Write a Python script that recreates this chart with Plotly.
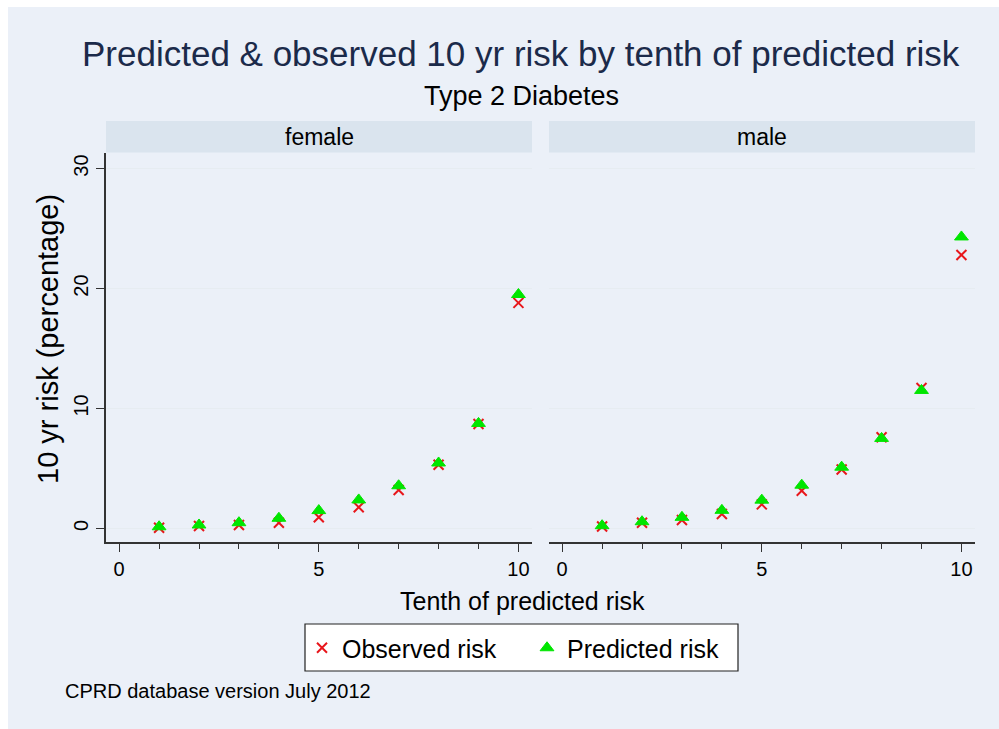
import plotly.graph_objects as go

# Tenth of predicted risk (deciles) and 10-year risk (%) per sex
deciles = [1, 2, 3, 4, 5, 6, 7, 8, 9, 10]
female_observed = [0.05, 0.19, 0.28, 0.47, 0.92, 1.76, 3.2, 5.3, 8.7, 18.8]
female_predicted = [0.13, 0.28, 0.47, 0.84, 1.48, 2.37, 3.55, 5.45, 8.75, 19.5]
male_observed = [0.15, 0.47, 0.69, 1.19, 2.0, 3.13, 4.9, 7.6, 11.7, 22.8]
male_predicted = [0.22, 0.55, 0.92, 1.5, 2.35, 3.6, 5.1, 7.5, 11.5, 24.3]

panel_labels = ["female", "male"]
x_ticks = [0, 5, 10]
y_ticks = [0, 10, 20, 30]

W, H = 999, 729
FONT = "Liberation Sans, Arial, sans-serif"
BG = "#EBF0F8"
STRIP = "#DAE4EE"
GRID = "#E6ECF1"
AXIS = "#333333"
RED = "#E8161B"
GREEN = "#00E600"


def px_x(v):
    return v / W


def px_y(v):
    return 1 - v / H


fig = go.Figure()

series = [
    (female_observed, female_predicted, "x", "y", True),
    (male_observed, male_predicted, "x2", "y2", False),
]
for obs, pred, xa, ya, show in series:
    fig.add_trace(go.Scatter(
        x=deciles, y=obs, mode="markers", name="Observed risk",
        xaxis=xa, yaxis=ya, showlegend=show, legendgroup="obs",
        marker=dict(symbol="x-thin", size=10, color=RED,
                    line=dict(width=2, color=RED)),
    ))
    fig.add_trace(go.Scatter(
        x=deciles, y=pred, mode="markers", name="Predicted risk",
        xaxis=xa, yaxis=ya, showlegend=show, legendgroup="pred",
        marker=dict(symbol="triangle-up", size=12, color=GREEN,
                    line=dict(width=1, color=GREEN)),
    ))

x_dom_f = [px_x(106), px_x(532)]
x_dom_m = [px_x(549), px_x(975)]
y_dom = [px_y(542), px_y(153)]

xaxis_common = dict(
    range=[-0.33, 10.34], tickvals=x_ticks, ticks="outside", ticklen=8,
    tickwidth=1.2, tickcolor=AXIS, showline=True, linecolor=AXIS,
    linewidth=1.5, showgrid=False, zeroline=False,
    tickfont=dict(family=FONT, size=20, color="black"),
    minor=dict(dtick=1, tick0=0, ticks="outside", ticklen=5,
               tickcolor=AXIS, tickwidth=1.2, showgrid=False),
)
yaxis_common = dict(
    range=[-1.14, 31.3], tickvals=y_ticks, showgrid=True, gridcolor=GRID,
    gridwidth=1.2, zeroline=False,
)

fig.update_layout(
    width=W, height=H,
    margin=dict(l=0, r=0, t=0, b=0),
    paper_bgcolor="white",
    plot_bgcolor="white",
    xaxis=dict(domain=x_dom_f, anchor="y", **xaxis_common),
    xaxis2=dict(domain=x_dom_m, anchor="y2", **xaxis_common),
    yaxis=dict(domain=y_dom, anchor="x", ticks="outside", ticklen=8,
               tickwidth=1.2, tickcolor=AXIS, showline=True,
               linecolor=AXIS, linewidth=1.5, tickangle=-90,
               tickfont=dict(family=FONT, size=20, color="black"),
               **yaxis_common),
    yaxis2=dict(domain=y_dom, anchor="x2", matches="y",
                showticklabels=False, ticks="", showline=False,
                **yaxis_common),
    showlegend=True,
    legend=dict(
        orientation="h", x=px_x(302), xanchor="left",
        y=px_y(625), yanchor="top",
        bgcolor="rgba(0,0,0,0)", borderwidth=0,
        font=dict(family=FONT, size=25, color="black"),
        entrywidth=180, entrywidthmode="pixels",
        itemsizing="trace",
    ),
)

# page background, facet strips and the legend frame
shapes = [
    dict(type="rect", xref="paper", yref="paper", x0=px_x(8), x1=1,
         y0=0, y1=px_y(7), fillcolor=BG, line=dict(width=0), layer="below"),
    dict(type="rect", xref="paper", yref="paper", x0=px_x(305), x1=px_x(738),
         y0=px_y(671), y1=px_y(624), fillcolor="white",
         line=dict(width=1.2, color="#222222"), layer="above"),
]
for dom in (x_dom_f, x_dom_m):
    shapes.append(dict(type="rect", xref="paper", yref="paper",
                       x0=dom[0], x1=dom[1], y0=px_y(152.5), y1=px_y(121),
                       fillcolor=STRIP, line=dict(width=0), layer="below"))
fig.update_layout(shapes=shapes)

annotations = [
    dict(text="Predicted & observed 10 yr risk by tenth of predicted risk",
         x=px_x(521), y=px_y(53), font=dict(family=FONT, size=35, color="#1B2A4A")),
    dict(text="Type 2 Diabetes", x=px_x(521), y=px_y(96),
         font=dict(family=FONT, size=27, color="black")),
    dict(text=panel_labels[0], x=sum(x_dom_f) / 2, y=px_y(137),
         font=dict(family=FONT, size=23, color="black")),
    dict(text=panel_labels[1], x=sum(x_dom_m) / 2, y=px_y(137),
         font=dict(family=FONT, size=23, color="black")),
    dict(text="Tenth of predicted risk", x=px_x(522), y=px_y(601),
         font=dict(family=FONT, size=25, color="black")),
    dict(text="10 yr risk (percentage)", x=px_x(48), y=px_y(339),
         textangle=-90, font=dict(family=FONT, size=29, color="black")),
    dict(text="CPRD database version July 2012", x=px_x(63), y=px_y(691),
         xanchor="left", font=dict(family=FONT, size=20, color="black")),
]
for a in annotations:
    a.setdefault("xanchor", "center")
    a.update(xref="paper", yref="paper", yanchor="middle", showarrow=False)
fig.update_layout(annotations=annotations)

fig.write_html("out.html")
